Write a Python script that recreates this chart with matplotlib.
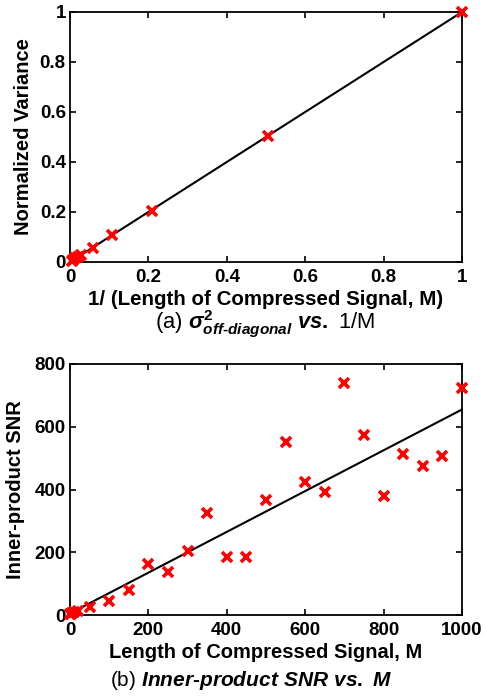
import matplotlib
matplotlib.use("Agg")
import matplotlib.pyplot as plt
import numpy as np

plt.rcParams['font.family'] = ['Liberation Sans', 'DejaVu Sans']
plt.rcParams['mathtext.fontset'] = 'custom'
plt.rcParams['mathtext.rm'] = 'Liberation Sans:bold'
plt.rcParams['mathtext.it'] = 'Liberation Sans:italic:bold'
plt.rcParams['mathtext.bf'] = 'Liberation Sans:bold'

# (a) normalized variance vs 1/M
inv_m = [1.0, 0.505, 0.208, 0.108, 0.058, 0.029, 0.02, 0.013, 0.008, 0.005]
norm_var = [1.0, 0.505, 0.205, 0.11, 0.057, 0.027, 0.022, 0.016, 0.01, 0.006]
line_a_x = [0.0, 1.0]
line_a_y = [0.0, 1.0]

# (b) inner-product SNR vs M
m_vals = [1, 2, 5, 10, 20, 50, 100, 150, 200, 250, 300, 350, 400, 450, 500,
          550, 600, 650, 700, 750, 800, 850, 900, 950, 1000]
snr_vals = [2, 3, 5, 8, 12, 27, 46, 80, 161, 138, 205, 326, 184, 186, 368,
            550, 424, 391, 738, 575, 380, 512, 474, 507, 723]
fit_slope = 0.65
fit_intercept = 5.0

xticks_a = [0, 0.2, 0.4, 0.6, 0.8, 1]
xticklabels_a = ['0', '0.2', '0.4', '0.6', '0.8', '1']
yticks_a = [0, 0.2, 0.4, 0.6, 0.8, 1]
yticklabels_a = ['0', '0.2', '0.4', '0.6', '0.8', '1']
xticks_b = [0, 200, 400, 600, 800, 1000]
yticks_b = [0, 200, 400, 600, 800]

fig = plt.figure(figsize=(4.85, 6.98), dpi=100)
W, H = 485, 698

TICK_FS = 13.5
LAB_FS = 14.5

def style(ax):
    ax.tick_params(direction='in', length=4, width=1.2, top=True, right=True,
                   labelsize=TICK_FS)
    ax.tick_params(axis='x', pad=5)
    ax.tick_params(axis='y', pad=3)
    for lab in ax.get_xticklabels() + ax.get_yticklabels():
        lab.set_fontweight('bold')
    for s in ax.spines.values():
        s.set_linewidth(1.3)

ax1 = fig.add_axes([70 / W, 1 - 262 / H, 392 / W, 250 / H])
ax1.plot(line_a_x, line_a_y, color='black', lw=1.5, zorder=2)
ax1.plot(inv_m, norm_var, 'x', color='red', ms=7, mew=2.6, zorder=3, clip_on=False)
ax1.set_xlim(0, 1)
ax1.set_ylim(0, 1)
ax1.set_xticks(xticks_a)
ax1.set_xticklabels(xticklabels_a)
ax1.set_yticks(yticks_a)
ax1.set_yticklabels(yticklabels_a)
style(ax1)
ax1.set_xlabel('1/ (Length of Compressed Signal, M)', fontsize=14.8, fontweight='bold', labelpad=3)
ax1.set_ylabel('Normalized Variance', fontsize=LAB_FS, fontweight='bold', labelpad=5)

ax2 = fig.add_axes([70 / W, 1 - 615 / H, 392 / W, 251 / H])
xx = np.array([0, 1000])
ax2.plot(xx, fit_intercept + fit_slope * xx, color='black', lw=1.5, zorder=2)
ax2.plot(m_vals, snr_vals, 'x', color='red', ms=7, mew=2.6, zorder=3, clip_on=False)
ax2.set_xlim(0, 1000)
ax2.set_ylim(0, 800)
ax2.set_xticks(xticks_b)
ax2.set_yticks(yticks_b)
style(ax2)
ax2.set_xlabel('Length of Compressed Signal, M', fontsize=LAB_FS, fontweight='bold', labelpad=3)
ax2.set_ylabel('Inner-product SNR', fontsize=LAB_FS, fontweight='bold', labelpad=7)

fig.text(265 / W, 1 - 324 / H,
         r'(a) $\sigma^{2}_{off\text{-}diagonal}$ $vs.$ 1/M',
         ha='center', va='center', fontsize=15.8)
fig.text(251 / W, 1 - 681 / H,
         r'(b) $Inner\text{-}product\ SNR\ vs.\ M$',
         ha='center', va='center', fontsize=15)

fig.savefig('out.png', dpi=100)
